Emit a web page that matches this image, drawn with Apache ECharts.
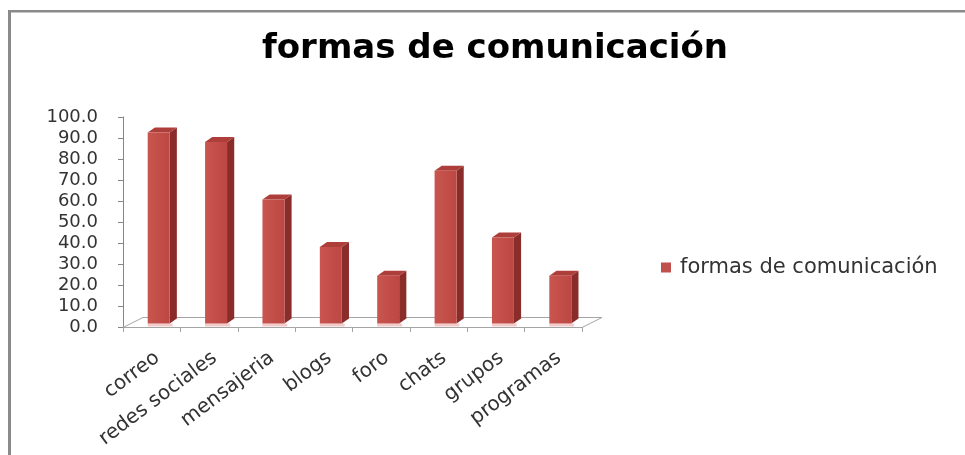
<!DOCTYPE html>
<html>
<head>
<meta charset="utf-8">
<script src="https://cdn.jsdelivr.net/npm/echarts@6/dist/echarts.min.js"></script>
<style>
  html, body { margin: 0; padding: 0; background: #ffffff; }
  #chart { width: 965px; height: 455px; }
</style>
</head>
<body>
<div id="chart"></div>
<script>
// Categories and share of respondents per communication channel (%)
const categories = ['correo', 'redes sociales', 'mensajeria', 'blogs', 'foro', 'chats', 'grupos', 'programas'];
const values = [90.9, 86.4, 59.1, 36.4, 22.7, 72.7, 40.9, 22.7];
const seriesName = 'formas de comunicación';
const yMin = 0, yMax = 100, yStep = 10;

const FONT = 'DejaVu Sans';
const FRONT_TOP = '#c9554f';
const FRONT_BOT = '#bd4843';
const SIDE = '#8a2c29';
const TOP = '#ad3e3a';
const FLOOR = '#a5a5a5';

// Floor parallelogram behind the bars (depth is a fraction of a category band)
function renderFloor(params, api) {
  const n = categories.length;
  const band = api.size([1, 0])[0];
  const a = api.coord([0, 0]);
  const b = api.coord([n - 1, 0]);
  const xL = a[0] - band / 2, xR = b[0] + band / 2, y = a[1] + 0.5;
  const dx = band * 0.348, dy = -10;
  return {
    type: 'polyline',
    shape: { points: [[xL, y], [xL + dx, y + dy], [xR + dx, y + dy], [xR, y]] },
    style: { stroke: FLOOR, lineWidth: 1, fill: null },
    silent: true
  };
}

// One 3D column: front face, right side face and top cap
function renderBar(params, api) {
  const i = api.value(0);
  const v = api.value(1);
  const base = api.coord([i, 0]);
  const top = api.coord([i, v]);
  const band = api.size([1, 0])[0];
  const w = band * 0.383;
  const sx = band * 0.122, sy = -3.5;   // bar sits partway into the floor depth
  const dx = band * 0.125, dy = -5;     // bar depth
  const x0 = base[0] - w / 2 + sx, x1 = x0 + w;
  const yb = base[1] + sy, yt = top[1] + sy;
  return {
    type: 'group',
    children: [
      { type: 'rect', shape: { x: x0, y: yb, width: w + dx * 0.4, height: 3 },
        style: { fill: 'rgba(232,160,158,0.55)' } },
      { type: 'polygon',
        shape: { points: [[x1, yb], [x1 + dx, yb + dy], [x1 + dx, yt + dy], [x1, yt]] },
        style: { fill: SIDE } },
      { type: 'polygon',
        shape: { points: [[x0, yt], [x0 + dx, yt + dy], [x1 + dx, yt + dy], [x1, yt]] },
        style: { fill: TOP } },
      { type: 'rect', shape: { x: x0, y: yt, width: w, height: yb - yt },
        style: { fill: new echarts.graphic.LinearGradient(0, 0, 1, 0, [
          { offset: 0, color: FRONT_TOP }, { offset: 1, color: FRONT_BOT }]) } }
    ]
  };
}

const chart = echarts.init(document.getElementById('chart'), null, { renderer: 'canvas' });
chart.setOption({
  animation: false,
  backgroundColor: '#ffffff',
  title: {
    text: seriesName,
    left: 490,
    top: 27,
    textAlign: 'center',
    textStyle: { fontFamily: FONT, fontSize: 34, fontWeight: 'bold', color: '#000000' }
  },
  legend: {
    data: [seriesName],
    left: 661,
    top: 257,
    padding: 0,
    icon: 'rect',
    itemWidth: 10,
    itemHeight: 10,
    textStyle: { fontFamily: FONT, fontSize: 21, color: '#333333', padding: [0, 0, 0, 4] }
  },
  grid: { left: 123, right: 383, top: 117, bottom: 128 },
  xAxis: {
    type: 'category',
    data: categories,
    boundaryGap: true,
    axisLine: { show: true, lineStyle: { color: FLOOR, width: 1 } },
    axisTick: { show: true, length: 5, lineStyle: { color: FLOOR } },
    axisLabel: { rotate: 37, margin: 33, interval: 0, fontFamily: FONT, fontSize: 20, color: '#333333',
      padding: [0, -7, 0, 0] },
    splitLine: { show: false }
  },
  yAxis: {
    type: 'value',
    min: yMin,
    max: yMax,
    interval: yStep,
    axisLine: { show: true, lineStyle: { color: '#868686', width: 1 } },
    axisTick: { show: true, length: 5, lineStyle: { color: '#868686' } },
    axisLabel: { margin: 25, fontFamily: FONT, fontSize: 18, color: '#333333',
      formatter: (v) => v.toFixed(1) },
    splitLine: { show: false }
  },
  graphic: [
    { type: 'rect', shape: { x: 8, y: 10, width: 3, height: 445 }, style: { fill: '#8a8a8a' }, silent: true },
    { type: 'rect', shape: { x: 8, y: 10, width: 957, height: 2.5 }, style: { fill: '#8a8a8a' }, silent: true }
  ],
  series: [
    {
      type: 'custom',
      name: 'floor',
      silent: true,
      z: 1,
      clip: false,
      renderItem: renderFloor,
      data: [[0, 0]],
      tooltip: { show: false }
    },
    {
      type: 'custom',
      name: seriesName,
      z: 2,
      clip: false,
      itemStyle: { color: '#c0504d' },
      renderItem: renderBar,
      encode: { x: 0, y: 1 },
      data: values.map((v, i) => [i, v])
    }
  ]
});
</script>
</body>
</html>
